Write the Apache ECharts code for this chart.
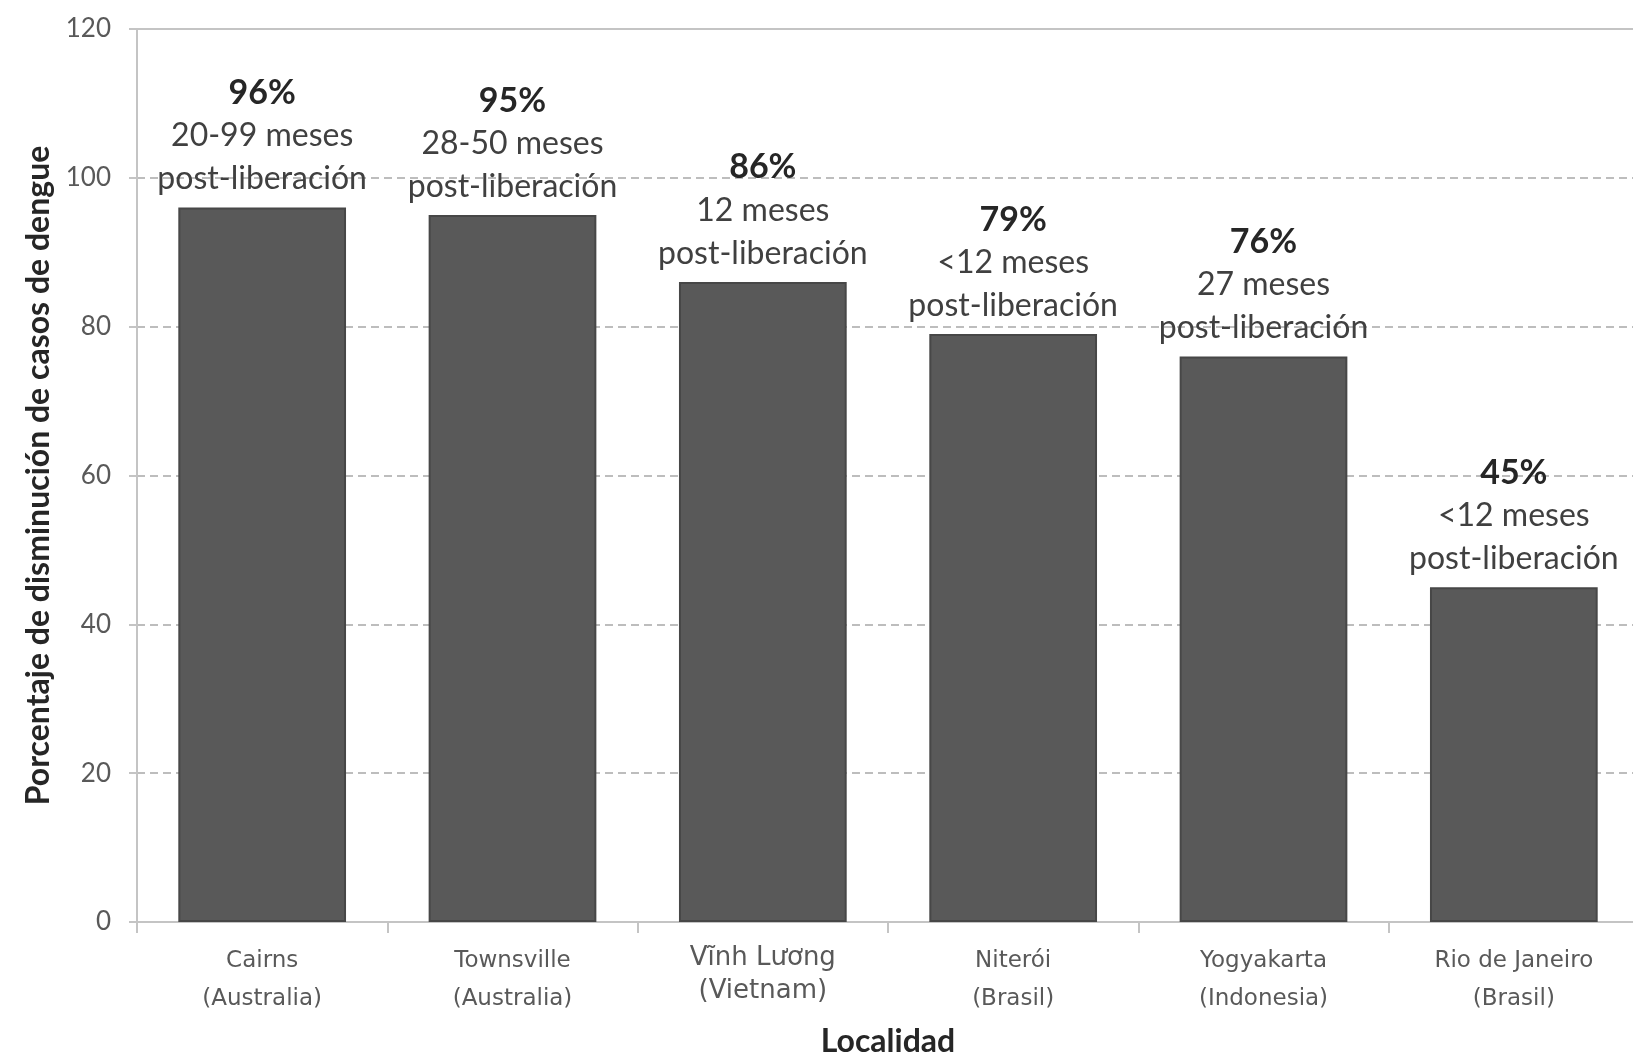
<!DOCTYPE html>
<html>
<head>
<meta charset="utf-8">
<style>
  html, body { margin: 0; padding: 0; background: #ffffff; }
  #chart { width: 1633px; height: 1054px; }
</style>
<script src="https://cdn.jsdelivr.net/npm/echarts@6/dist/echarts.min.js"></script>
</head>
<body>
<div id="chart"></div>
<script>
// Localities (city + country on two lines)
const localidades = [
  'Cairns\n(Australia)',
  'Townsville\n(Australia)',
  'Vĩnh Lương\n(Vietnam)',
  'Niterói\n(Brasil)',
  'Yogyakarta\n(Indonesia)',
  'Rio de Janeiro\n(Brasil)'
];
// Percentage reduction in dengue cases
const disminucion = [96, 95, 86, 79, 76, 45];
// Time after release for each locality
const periodo = [
  '20-99 meses',
  '28-50 meses',
  '12 meses',
  '<12 meses',
  '27 meses',
  '<12 meses'
];
const yTicks = { min: 0, max: 120, interval: 20 };

const FONT = 'Lato, "Open Sans", sans-serif';
const LABEL_FONT = '"DejaVu Sans", Verdana, sans-serif';
const chart = echarts.init(document.getElementById('chart'), null, { renderer: 'canvas' });

chart.setOption({
  animation: false,
  backgroundColor: '#ffffff',
  grid: { left: 137, top: 29, width: 1502, height: 893, containLabel: false, outerBoundsMode: 'none' },
  xAxis: [
    {
      type: 'category',
      data: localidades,
      position: 'bottom',
      name: 'Localidad',
      nameLocation: 'middle',
      nameGap: 104,
      nameTextStyle: { fontFamily: FONT, fontWeight: 'bold', fontSize: 32, color: '#262626' },
      axisLine: { show: true, lineStyle: { color: '#c4c4c4', width: 2 } },
      axisTick: { show: true, interval: 0, length: 11, alignWithLabel: false, lineStyle: { color: '#c4c4c4', width: 2 } },
      axisLabel: {
        interval: 0, margin: 20, fontFamily: LABEL_FONT, fontSize: 23, lineHeight: 38, color: '#595959',
        // the Vietnamese place name is set a little larger
        formatter: (value, index) => index === 2
          ? value.split('\n').map(s => '{v|' + s + '}').join('\n')
          : value,
        rich: {
          v: { fontFamily: LABEL_FONT, fontSize: 26, lineHeight: 33, color: '#595959' }
        }
      },
      splitLine: { show: false }
    },
    {
      // top border of the plot area at 120
      type: 'category',
      data: localidades,
      position: 'top',
      axisLine: { show: true, lineStyle: { color: '#c4c4c4', width: 2 } },
      axisTick: { show: false },
      axisLabel: { show: false },
      splitLine: { show: false }
    }
  ],
  yAxis: {
    type: 'value',
    min: yTicks.min,
    max: yTicks.max,
    interval: yTicks.interval,
    name: 'Porcentaje de disminución de casos de dengue',
    nameLocation: 'middle',
    nameRotate: 90,
    nameGap: 82,
    nameTextStyle: { fontFamily: FONT, fontWeight: 'bold', fontSize: 32, color: '#262626' },
    axisLine: { show: true, lineStyle: { color: '#c4c4c4', width: 2 } },
    axisTick: { show: true, length: 8, lineStyle: { color: '#c4c4c4', width: 2 } },
    axisLabel: { margin: 26, fontFamily: FONT, fontSize: 26, color: '#595959' },
    splitLine: { show: true, lineStyle: { color: '#a8a8a8', width: 1.5, type: [8, 5] } }
  },
  series: [{
    type: 'bar',
    data: disminucion,
    barCategoryGap: '33%',
    itemStyle: { color: '#595959', borderColor: '#474747', borderWidth: 2 },
    label: {
      show: true,
      position: 'top',
      distance: 7,
      formatter: (p) => '{pct|' + p.value + '%}\n{txt|' + periodo[p.dataIndex] + '}\n{txt|post-liberación}',
      rich: {
        pct: { fontFamily: FONT, fontWeight: 'bold', fontSize: 34, lineHeight: 43, color: '#262626' },
        txt: { fontFamily: FONT, fontSize: 32, lineHeight: 43, color: '#404040' }
      }
    }
  }]
});
</script>
</body>
</html>
